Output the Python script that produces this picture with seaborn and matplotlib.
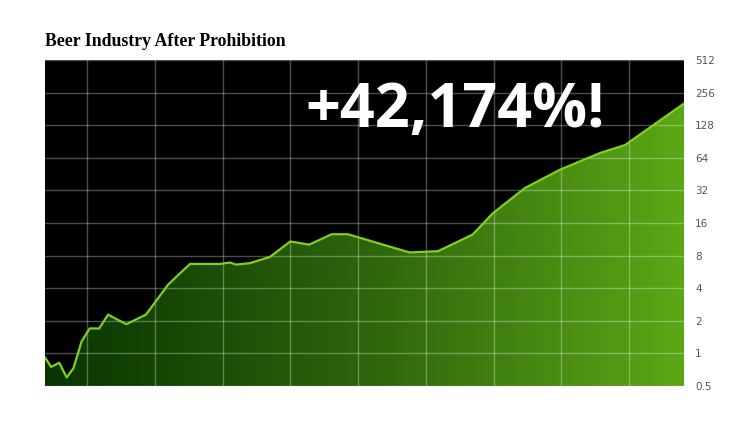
import numpy as np
import matplotlib
matplotlib.use("Agg")
import matplotlib.pyplot as plt
from matplotlib.colors import LinearSegmentedColormap
import seaborn as sns

# Data (x positions ~ years, y on a log2 scale)
years = [1933.8, 1934.7, 1935.9, 1937.0, 1938.0, 1939.2, 1940.4, 1941.8, 1943.1,
         1945.8, 1948.7, 1952.0, 1955.2, 1959.6, 1961.1, 1962.0, 1964.0, 1967.0,
         1970.0, 1972.8, 1976.1, 1978.5, 1987.6, 1991.8, 1996.9, 1999.9, 2004.6,
         2009.8, 2015.7, 2019.4, 2028.1]
values = [0.92, 0.75, 0.82, 0.60, 0.73, 1.29, 1.70, 1.70, 2.28,
          1.86, 2.28, 4.34, 6.70, 6.70, 6.90, 6.61, 6.80, 7.78,
          10.8, 10.1, 12.6, 12.6, 8.55, 8.79, 12.5, 19.7, 33.6,
          49.7, 70.8, 84.0, 203.0]
y_ticks = [0.5, 1, 2, 4, 8, 16, 32, 64, 128, 256, 512]
y_labels = ["0.5", "1", "2", "4", "8", "16", "32", "64", "128", "256", "512"]
x_grid = [1940, 1950, 1960, 1970, 1980, 1990, 2000, 2010, 2020]
title = "Beer Industry After Prohibition"
headline = "+42,174%!"

sns.set_style("dark")

fig = plt.figure(figsize=(7.5, 4.22), dpi=100)
fig.patch.set_facecolor("white")
ax = fig.add_axes([45 / 750, 36 / 422, 639 / 750, 326 / 422])
ax.set_facecolor("black")

ax.set_yscale("log", base=2)
ax.set_ylim(0.5, 512)
ax.set_xlim(min(years), max(years))

# area under the curve, filled with a left-to-right green gradient
fill = ax.fill_between(years, 0.5, values, color="none", lw=0, zorder=1)
green = LinearSegmentedColormap.from_list(
    "beer", [(0.0, "#0a3400"), (0.5, "#2d640c"), (1.0, "#5ca716")])
grad = np.linspace(0, 1, 256).reshape(1, -1)
im = ax.imshow(grad, cmap=green, aspect="auto", extent=[0, 1, 0, 1],
               transform=ax.transAxes, zorder=1)
im.set_clip_path(fill.get_paths()[0], transform=ax.transData)

sns.lineplot(x=years, y=values, ax=ax, color="#7fd11f", lw=1.6, zorder=3)

# grid
ax.set_xticks(x_grid)
ax.set_yticks(y_ticks)
ax.set_yticklabels(y_labels)
ax.minorticks_off()
ax.set_axisbelow("line")
ax.grid(True, color="white", alpha=0.3, lw=1)

ax.yaxis.tick_right()
ax.tick_params(axis="y", length=0, pad=8, labelsize=7.5, labelcolor="#555555")
ax.tick_params(axis="x", length=0, labelbottom=False)
for s in ax.spines.values():
    s.set_visible(False)

ax.text(0.642, 0.795, headline, transform=ax.transAxes, ha="center",
        va="baseline", color="white", fontsize=44, fontweight="bold",
        family="Open Sans", zorder=4)

fig.text(45 / 750, 1 - 41 / 422, title, ha="left", va="center",
         fontsize=12.8, fontweight="bold", family="Liberation Serif", color="black")

fig.savefig("out.png", dpi=100)
